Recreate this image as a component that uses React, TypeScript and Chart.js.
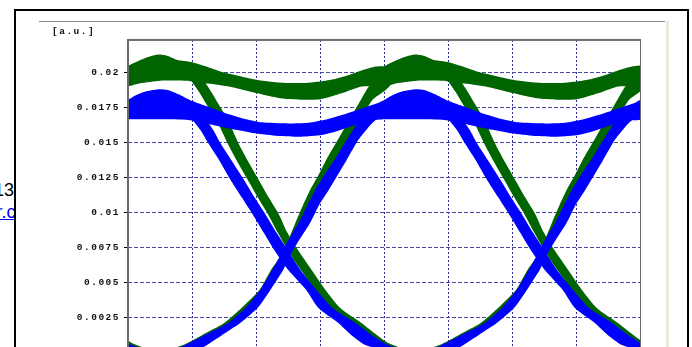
import React, { useEffect, useRef } from "react";
import { Chart, registerables } from "chart.js";

Chart.register(...registerables);

type P = [number, number];

// ---- axes ----
const X_MIN = 0;
const X_MAX = 8;
const X_STEP = 1;
const Y_MIN = -0.0005;
const Y_MAX = 0.02236;
const Y_TICKS = [0, 0.0025, 0.005, 0.0075, 0.01, 0.0125, 0.015, 0.0175, 0.02];
const Y_TICK_LABELS = ["0", "0.0025", "0.005", "0.0075", "0.01", "0.0125", "0.015", "0.0175", "0.02"];
const Y_UNIT = "[a.u.]";

// ---- green trace: "1" level band ----
const GREEN_HIGH_TOP: P[] = [
  [0, 0.0205], [0.09, 0.02071], [0.25, 0.02104], [0.39, 0.02125], [0.5, 0.02132], [0.62, 0.02121], [0.77, 0.02093],
  [0.98, 0.02079], [1.2, 0.0205], [1.44, 0.02011], [1.6, 0.01993], [1.83, 0.01968], [2.02, 0.0195], [2.25, 0.01936],
  [2.48, 0.01929], [2.77, 0.01929], [3.0, 0.01939], [3.23, 0.01957], [3.47, 0.01989], [3.66, 0.02021], [3.86, 0.02046],
  [4.0, 0.0205], [4.09, 0.02071], [4.25, 0.02104], [4.39, 0.02125], [4.5, 0.02132], [4.62, 0.02121], [4.77, 0.02093],
  [4.98, 0.02079], [5.2, 0.0205], [5.44, 0.02011], [5.6, 0.01993], [5.83, 0.01968], [6.02, 0.0195], [6.25, 0.01936],
  [6.48, 0.01929], [6.77, 0.01929], [7.0, 0.01939], [7.23, 0.01957], [7.47, 0.01989], [7.66, 0.02021], [7.86, 0.02046],
  [8.0, 0.0205],
];
const GREEN_HIGH_BOTTOM: P[] = [
  [0, 0.01902], [0.19, 0.01926], [0.5, 0.01945], [0.92, 0.01945], [1.08, 0.01931], [1.25, 0.01925], [1.59, 0.01902],
  [2.02, 0.01855], [2.38, 0.01819], [2.69, 0.01809], [3.0, 0.01812], [3.33, 0.01855], [3.64, 0.01904], [3.85, 0.01905],
  [4.0, 0.01902], [4.19, 0.01926], [4.5, 0.01945], [4.92, 0.01945], [5.08, 0.01931], [5.25, 0.01925], [5.59, 0.01902],
  [6.02, 0.01855], [6.38, 0.01819], [6.69, 0.01809], [7.0, 0.01812], [7.33, 0.01855], [7.64, 0.01904], [7.85, 0.01905],
  [8.0, 0.01902],
];
// ---- green "0" level band ----
const GREEN_LOW_TOP: P[] = [[0, 0.0001], [8, 0.0001]];
const GREEN_LOW_BOTTOM: P[] = [[0, -0.0004], [8, -0.0004]];

// ---- green falling edges (left / right edge, top to bottom) ----
const GREEN_FALL_0_L: P[] = [
  [-1.36, 0.00629], [-1.08, 0.0045], [-0.87, 0.00321], [-0.56, 0.00214], [-0.36, 0.00129], [-0.14, 0.00071], [0.17, 0.00007],
];
const GREEN_FALL_0_R: P[] = [
  [-1.19, 0.00629], [-0.92, 0.0045], [-0.69, 0.00321], [-0.36, 0.00214], [-0.12, 0.00129], [0.06, 0.00071], [0.41, 0.00007],
];
const GREEN_FALL_1_L: P[] = [
  [1.0, 0.01936], [1.11, 0.01864], [1.23, 0.01771], [1.38, 0.01664], [1.55, 0.015], [1.69, 0.01379], [1.86, 0.01243],
  [2.02, 0.01114], [2.18, 0.00993], [2.33, 0.00864], [2.48, 0.00743], [2.64, 0.00629], [2.92, 0.0045], [3.13, 0.00321],
  [3.44, 0.00214], [3.64, 0.00129], [3.86, 0.00071], [4.17, 0.00007],
];
const GREEN_FALL_1_R: P[] = [
  [1.2, 0.01936], [1.3, 0.01864], [1.42, 0.01771], [1.56, 0.01664], [1.72, 0.015], [1.86, 0.01379], [2.03, 0.01243],
  [2.19, 0.01114], [2.35, 0.00993], [2.48, 0.00864], [2.64, 0.00743], [2.81, 0.00629], [3.08, 0.0045], [3.31, 0.00321],
  [3.64, 0.00214], [3.88, 0.00129], [4.06, 0.00071], [4.41, 0.00007],
];
const GREEN_FALL_2_L: P[] = [
  [5.0, 0.01936], [5.11, 0.01864], [5.23, 0.01771], [5.38, 0.01664], [5.55, 0.015], [5.69, 0.01379], [5.86, 0.01243],
  [6.02, 0.01114], [6.18, 0.00993], [6.33, 0.00864], [6.48, 0.00743], [6.64, 0.00629], [6.92, 0.0045], [7.13, 0.00321],
  [7.44, 0.00214], [7.64, 0.00129], [7.86, 0.00071], [8.17, 0.00007],
];
const GREEN_FALL_2_R: P[] = [
  [5.2, 0.01936], [5.3, 0.01864], [5.42, 0.01771], [5.56, 0.01664], [5.72, 0.015], [5.86, 0.01379], [6.03, 0.01243],
  [6.19, 0.01114], [6.35, 0.00993], [6.48, 0.00864], [6.64, 0.00743], [6.81, 0.00629], [7.08, 0.0045], [7.31, 0.00321],
  [7.64, 0.00214], [7.88, 0.00129], [8.06, 0.00071], [8.41, 0.00007],
];
// ---- green rising edges (left / right edge, bottom to top) ----
const GREEN_RISE_1_L: P[] = [
  [0.58, 0.00021], [0.86, 0.00057], [1.16, 0.00129], [1.5, 0.00214], [1.77, 0.00321], [2.05, 0.0045], [2.23, 0.00593],
  [2.39, 0.007], [2.5, 0.00807], [2.61, 0.00929], [2.73, 0.01057], [2.84, 0.01164], [2.97, 0.01271], [3.09, 0.01379],
  [3.27, 0.01521], [3.45, 0.01664], [3.63, 0.01807], [3.72, 0.01879], [3.78, 0.01914],
];
const GREEN_RISE_1_R: P[] = [
  [0.97, 0.00021], [1.2, 0.00057], [1.42, 0.00129], [1.69, 0.00214], [1.95, 0.00321], [2.2, 0.0045], [2.39, 0.00593],
  [2.53, 0.007], [2.64, 0.00807], [2.77, 0.00929], [2.89, 0.01057], [3.02, 0.01164], [3.14, 0.01271], [3.27, 0.01379],
  [3.44, 0.01521], [3.63, 0.01664], [3.81, 0.01807], [4.02, 0.01879], [4.09, 0.01914],
];
const GREEN_RISE_2_L: P[] = [
  [4.58, 0.00021], [4.86, 0.00057], [5.16, 0.00129], [5.5, 0.00214], [5.77, 0.00321], [6.05, 0.0045], [6.23, 0.00593],
  [6.39, 0.007], [6.5, 0.00807], [6.61, 0.00929], [6.73, 0.01057], [6.84, 0.01164], [6.97, 0.01271], [7.09, 0.01379],
  [7.27, 0.01521], [7.45, 0.01664], [7.63, 0.01807], [7.72, 0.01879], [7.78, 0.01914],
];
const GREEN_RISE_2_R: P[] = [
  [4.97, 0.00021], [5.2, 0.00057], [5.42, 0.00129], [5.69, 0.00214], [5.95, 0.00321], [6.2, 0.0045], [6.39, 0.00593],
  [6.53, 0.007], [6.64, 0.00807], [6.77, 0.00929], [6.89, 0.01057], [7.02, 0.01164], [7.14, 0.01271], [7.27, 0.01379],
  [7.44, 0.01521], [7.63, 0.01664], [7.81, 0.01807], [8.02, 0.01879], [8.09, 0.01914],
];

// ---- blue trace: "1" level band ----
const BLUE_HIGH_TOP: P[] = [
  [0, 0.01808], [0.1, 0.01836], [0.26, 0.01866], [0.47, 0.01884], [0.62, 0.01879], [0.78, 0.0185], [0.99, 0.01802],
  [1.25, 0.01759], [1.56, 0.01707], [1.82, 0.01672], [2.08, 0.01648], [2.5, 0.0164], [2.81, 0.01645], [3.12, 0.01672],
  [3.39, 0.01707], [3.65, 0.01748], [3.91, 0.01788],
  [4.0, 0.01808], [4.1, 0.01836], [4.26, 0.01866], [4.47, 0.01884], [4.62, 0.01879], [4.78, 0.0185], [4.99, 0.01802],
  [5.25, 0.01759], [5.56, 0.01707], [5.82, 0.01672], [6.08, 0.01648], [6.5, 0.0164], [6.81, 0.01645], [7.12, 0.01672],
  [7.39, 0.01707], [7.65, 0.01748], [7.91, 0.01788], [8.0, 0.01808],
];
const BLUE_HIGH_BOTTOM: P[] = [
  [0, 0.01669], [0.52, 0.01669], [0.94, 0.01664], [1.2, 0.01641], [1.56, 0.01605], [1.98, 0.01569], [2.34, 0.0155],
  [2.71, 0.01545], [3.02, 0.01557], [3.28, 0.01588], [3.54, 0.01629], [3.78, 0.01661],
  [4.0, 0.01669], [4.52, 0.01669], [4.94, 0.01664], [5.2, 0.01641], [5.56, 0.01605], [5.98, 0.01569], [6.34, 0.0155],
  [6.71, 0.01545], [7.02, 0.01557], [7.28, 0.01588], [7.54, 0.01629], [7.78, 0.01661], [8.0, 0.01669],
];
// ---- blue "0" level band ----
const BLUE_LOW_TOP: P[] = [[0, 0.00005], [8, 0.00005]];
const BLUE_LOW_BOTTOM: P[] = [[0, -0.0004], [8, -0.0004]];

// ---- blue falling edges ----
const BLUE_FALL_0_L: P[] = [
  [-1.5, 0.00593], [-1.22, 0.0045], [-1.03, 0.00321], [-0.72, 0.00214], [-0.52, 0.00129], [-0.3, 0.00057], [0.09, 0.00007],
];
const BLUE_FALL_0_R: P[] = [
  [-1.31, 0.00593], [-1.06, 0.0045], [-0.81, 0.00321], [-0.45, 0.00214], [-0.2, 0.00129], [0.06, 0.00057], [0.41, 0.00007],
];
const BLUE_FALL_1_L: P[] = [
  [0.98, 0.01679], [1.13, 0.01593], [1.25, 0.015], [1.42, 0.01379], [1.59, 0.01243], [1.77, 0.01114], [1.94, 0.00993],
  [2.11, 0.00864], [2.27, 0.00743], [2.5, 0.00593], [2.78, 0.0045], [2.97, 0.00321], [3.28, 0.00214], [3.48, 0.00129],
  [3.7, 0.00057], [4.09, 0.00007],
];
const BLUE_FALL_1_R: P[] = [
  [1.2, 0.01679], [1.33, 0.01593], [1.44, 0.015], [1.61, 0.01379], [1.8, 0.01243], [1.97, 0.01114], [2.14, 0.00993],
  [2.31, 0.00864], [2.48, 0.00743], [2.69, 0.00593], [2.94, 0.0045], [3.19, 0.00321], [3.55, 0.00214], [3.8, 0.00129],
  [4.06, 0.00057], [4.41, 0.00007],
];
const BLUE_FALL_2_L: P[] = [
  [4.98, 0.01679], [5.13, 0.01593], [5.25, 0.015], [5.42, 0.01379], [5.59, 0.01243], [5.77, 0.01114], [5.94, 0.00993],
  [6.11, 0.00864], [6.27, 0.00743], [6.5, 0.00593], [6.78, 0.0045], [6.97, 0.00321], [7.28, 0.00214], [7.48, 0.00129],
  [7.7, 0.00057], [8.09, 0.00007],
];
const BLUE_FALL_2_R: P[] = [
  [5.2, 0.01679], [5.33, 0.01593], [5.44, 0.015], [5.61, 0.01379], [5.8, 0.01243], [5.97, 0.01114], [6.14, 0.00993],
  [6.31, 0.00864], [6.48, 0.00743], [6.69, 0.00593], [6.94, 0.0045], [7.19, 0.00321], [7.55, 0.00214], [7.8, 0.00129],
  [8.06, 0.00057], [8.41, 0.00007],
];
// ---- blue rising edges ----
const BLUE_RISE_1_L: P[] = [
  [0.66, 0.00007], [0.89, 0.00057], [1.2, 0.00129], [1.56, 0.00214], [1.83, 0.00321], [2.06, 0.0045], [2.25, 0.00593],
  [2.38, 0.007], [2.5, 0.00807], [2.66, 0.00929], [2.8, 0.01057], [2.92, 0.01164], [3.06, 0.01271], [3.22, 0.01379],
  [3.41, 0.01521], [3.56, 0.01629], [3.69, 0.017],
];
const BLUE_RISE_1_R: P[] = [
  [1.05, 0.00007], [1.23, 0.00057], [1.47, 0.00129], [1.75, 0.00214], [2.02, 0.00321], [2.22, 0.0045], [2.42, 0.00593],
  [2.53, 0.007], [2.67, 0.00807], [2.84, 0.00929], [2.98, 0.01057], [3.13, 0.01164], [3.27, 0.01271], [3.41, 0.01379],
  [3.59, 0.01521], [3.78, 0.01629], [3.94, 0.017],
];
const BLUE_RISE_2_L: P[] = [
  [4.66, 0.00007], [4.89, 0.00057], [5.2, 0.00129], [5.56, 0.00214], [5.83, 0.00321], [6.06, 0.0045], [6.25, 0.00593],
  [6.38, 0.007], [6.5, 0.00807], [6.66, 0.00929], [6.8, 0.01057], [6.92, 0.01164], [7.06, 0.01271], [7.22, 0.01379],
  [7.41, 0.01521], [7.56, 0.01629], [7.69, 0.017],
];
const BLUE_RISE_2_R: P[] = [
  [5.05, 0.00007], [5.23, 0.00057], [5.47, 0.00129], [5.75, 0.00214], [6.02, 0.00321], [6.22, 0.0045], [6.42, 0.00593],
  [6.53, 0.007], [6.67, 0.00807], [6.84, 0.00929], [6.98, 0.01057], [7.13, 0.01164], [7.27, 0.01271], [7.41, 0.01379],
  [7.59, 0.01521], [7.78, 0.01629], [7.94, 0.017],
];

const GREEN = "#006400";
const BLUE = "#0000ff";

const TICK_FONT = { family: "'Liberation Mono', monospace", size: 9.5, weight: "bold" as const, lineHeight: 1.1 };

function band(edgeA: P[], edgeB: P[], color: string) {
  const pts = [...edgeA, ...edgeB.slice().reverse()].map(([x, y]) => ({ x, y }));
  return {
    data: pts,
    borderColor: color,
    backgroundColor: color,
    borderWidth: 0,
    fill: "shape",
    pointRadius: 0,
    tension: 0.2,
  };
}

const spacingPlugin = {
  id: "letterSpacing",
  beforeUpdate(chart: any) {
    chart.ctx.letterSpacing = "1.5px";
  },
  beforeDraw(chart: any) {
    chart.ctx.letterSpacing = "1.5px";
  },
};

const framePlugin = {
  id: "plotFrame",
  afterDraw(chart: any) {
    const { ctx, chartArea: a } = chart;
    ctx.save();
    ctx.strokeStyle = "#6b6b6b";
    ctx.lineWidth = 2;
    ctx.strokeRect(a.left, a.top, a.right - a.left, a.bottom - a.top);
    ctx.restore();
  },
};

export default function App() {
  const ref = useRef<HTMLCanvasElement>(null);

  useEffect(() => {
    const canvas = ref.current;
    if (!canvas) return;
    const datasets: any[] = [
      band(BLUE_HIGH_TOP, BLUE_HIGH_BOTTOM, BLUE),
      band(BLUE_LOW_TOP, BLUE_LOW_BOTTOM, BLUE),
      band(BLUE_FALL_0_L, BLUE_FALL_0_R, BLUE),
      band(BLUE_FALL_1_L, BLUE_FALL_1_R, BLUE),
      band(BLUE_FALL_2_L, BLUE_FALL_2_R, BLUE),
      band(BLUE_RISE_1_L, BLUE_RISE_1_R, BLUE),
      band(BLUE_RISE_2_L, BLUE_RISE_2_R, BLUE),
      band(GREEN_HIGH_TOP, GREEN_HIGH_BOTTOM, GREEN),
      band(GREEN_LOW_TOP, GREEN_LOW_BOTTOM, GREEN),
      band(GREEN_FALL_0_L, GREEN_FALL_0_R, GREEN),
      band(GREEN_FALL_1_L, GREEN_FALL_1_R, GREEN),
      band(GREEN_FALL_2_L, GREEN_FALL_2_R, GREEN),
      band(GREEN_RISE_1_L, GREEN_RISE_1_R, GREEN),
      band(GREEN_RISE_2_L, GREEN_RISE_2_R, GREEN),
    ];

    const chart = new Chart(canvas, {
      type: "line",
      data: { datasets },
      options: {
        responsive: false,
        animation: false,
        events: [],
        layout: { padding: { left: 12, right: 0, top: 0, bottom: 0 } },
        plugins: {
          legend: { display: false },
          tooltip: { enabled: false },
          title: {
            display: true,
            text: Y_UNIT,
            align: "start",
            color: "#111",
            font: TICK_FONT,
            padding: { top: 4.5, bottom: 3 },
          },
        },
        scales: {
          x: {
            type: "linear",
            min: X_MIN,
            max: X_MAX,
            ticks: { display: false, stepSize: X_STEP },
            grid: { color: "#26268f", lineWidth: 1, drawTicks: false },
            border: { display: false, dash: [2, 2] },
            afterFit: (s: any) => {
              s.height = 0;
            },
          },
          y: {
            type: "linear",
            min: Y_MIN,
            max: Y_MAX,
            afterBuildTicks: (s: any) => {
              s.ticks = Y_TICKS.map((v) => ({ value: v }));
            },
            ticks: {
              callback: (_v: any, i: number) => Y_TICK_LABELS[i],
              font: TICK_FONT,
              color: "#111",
              padding: 4,
              autoSkip: false,
            },
            grid: { color: "#4a4aa4", lineWidth: 1, tickColor: "#000", tickLength: 4, drawTicks: true },
            border: { display: false, dash: [4, 2] },
            afterFit: (s: any) => {
              s.width = 76;
              s.paddingTop = 0;
              s.paddingBottom = 0;
            },
          },
        },
      } as any,
      plugins: [spacingPlugin, framePlugin],
    });
    return () => chart.destroy();
  }, []);

  return (
    <div
      style={{
        position: "fixed",
        left: 0,
        top: 0,
        width: 692,
        height: 347,
        overflow: "hidden",
        background: "#fff",
      }}
    >
      <div
        style={{
          position: "absolute",
          left: -6,
          top: 180,
          font: "18px 'Liberation Sans', Arial, sans-serif",
          lineHeight: "20px",
          color: "#000",
          whiteSpace: "nowrap",
        }}
      >
        13
      </div>
      <div
        style={{
          position: "absolute",
          left: -3.5,
          top: 202,
          font: "18px 'Liberation Sans', Arial, sans-serif",
          lineHeight: "20px",
          color: "#0000ee",
          textDecoration: "underline",
          whiteSpace: "nowrap",
        }}
      >
        r.com
      </div>
      <div
        style={{
          position: "absolute",
          left: 14,
          top: 9,
          width: 671,
          height: 420,
          border: "2px solid #000",
          background: "#fff",
        }}
      >
        <div style={{ position: "absolute", left: 23, top: 10, width: 626, height: 1, background: "#8a8a8a" }} />
        <div style={{ position: "absolute", left: 650, top: 10, width: 3, height: 420, background: "#ece9d8" }} />
        <canvas
          ref={ref}
          width={601}
          height={338}
          style={{ position: "absolute", left: 24, top: 11, width: 601, height: 338 }}
        />
      </div>
    </div>
  );
}
